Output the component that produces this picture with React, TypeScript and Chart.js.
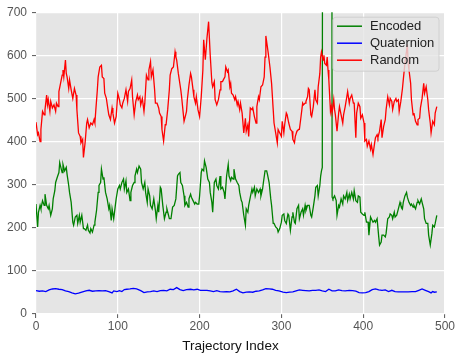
import React, { useEffect, useRef } from "react";
import { Chart, registerables } from "chart.js";

Chart.register(...registerables);

const seriesNames = ["Encoded", "Quaternion", "Random"];
const seriesColors = ["#008000", "#0000ff", "#ff0000"];
const xTicks = [0, 100, 200, 300, 400, 500];
const yTicks = [0, 100, 200, 300, 400, 500, 600, 700];
const xTitle = "Trajectory Index";

const encodedIdx = [
  0,2,3,5,6,8,10,11,13,15,
  16,18,20,21,23,24,26,28,29,30,
  32,33,35,37,38,40,41,43,45,46,
  48,50,51,53,54,56,58,59,61,63,
  64,66,67,69,71,72,74,76,77,79,
  80,82,83,85,87,89,90,92,93,95,
  97,98,100,102,103,105,107,108,110,111,
  113,115,116,118,120,121,123,124,126,128,
  129,131,133,134,136,137,139,140,142,144,
  146,147,149,150,152,153,155,157,159,160,
  162,163,165,167,169,171,173,174,176,177,
  179,181,182,184,186,187,189,190,192,194,
  195,197,199,200,202,203,205,206,208,210,
  212,213,215,216,218,220,221,223,225,226,
  228,230,231,233,235,236,238,239,241,242,
  244,246,248,249,251,252,254,256,257,259,
  260,262,264,265,267,268,270,272,274,275,
  277,278,280,282,283,285,287,288,290,291,
  293,295,296,298,300,301,303,304,306,308,
  309,311,313,314,316,317,319,321,322,324,
  326,327,329,330,332,334,336,337,339,341,
  342,344,345,347,348,349,350,351,356,361,
  362,363,365,367,368,370,371,373,375,376,
  378,380,381,383,384,386,388,389,391,393,
  394,396,397,399,401,402,404,406,407,409,
  410,412,414,415,417,419,420,422,423,425,
  427,428,430,432,433,435,436,438,439,441,
  443,445,446,448,449,451,453,454,456,458,
  459,461,462,464,466,467,469,471,472,474,
  475,477,479,480,482,484,485,487,488,490,
];
const encodedVals = [
  255,202,236,252,244,263,252,278,252,244,
  252,229,244,267,286,305,317,328,351,343,
  328,347,332,340,324,298,282,259,213,206,
  225,229,210,229,213,229,198,198,194,206,
  194,188,198,190,206,213,240,282,298,305,
  336,313,317,282,267,244,252,217,244,221,
  252,267,290,298,290,305,313,290,309,282,
  290,263,282,298,305,320,336,328,343,336,
  305,290,305,282,259,290,274,252,244,267,
  240,221,252,236,294,290,252,221,236,244,
  229,221,221,248,252,267,320,324,328,305,
  298,274,252,259,248,267,278,271,263,255,
  259,255,255,274,328,336,332,355,340,313,
  305,282,259,236,305,313,298,290,320,290,
  294,282,267,320,347,320,309,317,313,336,
  313,305,298,282,263,259,229,206,244,236,
  252,271,290,282,294,274,290,282,290,274,
  290,305,332,332,324,305,267,252,210,210,
  202,198,190,198,213,229,232,217,210,232,
  229,194,225,236,213,210,244,252,221,236,
  244,229,252,240,252,252,229,225,248,274,
  294,298,274,298,320,332,340,2600,3100,2800,
  271,267,274,263,229,252,248,267,255,274,
  267,282,263,278,267,282,267,286,263,259,
  274,271,236,232,229,236,213,213,183,225,
  221,213,217,213,221,179,160,167,183,183,
  179,187,221,225,232,229,221,236,225,229,
  244,259,252,244,259,274,282,271,259,252,
  255,248,252,244,259,263,255,267,259,244,
  221,210,210,183,160,187,206,202,210,229,
];

const quaternionIdx = [
  0,4,8,12,16,20,24,28,32,36,
  40,44,48,52,57,61,65,69,73,77,
  81,85,89,93,95,99,102,105,108,111,
  115,119,123,128,132,136,140,144,148,152,
  156,160,164,168,172,176,180,184,189,193,
  197,201,205,209,213,217,221,225,229,233,
  237,241,245,249,253,257,261,265,269,273,
  277,281,285,289,293,297,302,306,310,314,
  318,322,326,330,334,338,342,346,350,354,
  358,362,366,370,374,378,383,387,391,395,
  399,403,407,411,415,419,423,427,431,435,
  439,443,447,451,455,460,464,468,472,476,
  480,483,485,487,490,
];
const quaternionVals = [
  54.3,52.8,53.5,52,55.8,58,58.9,57.4,56.6,53.5,
  52,49,46.6,48.2,51.2,53.5,55,52.8,53.5,54.3,
  53.5,54.3,52,49,53.5,52,54.3,52,56.6,57.4,
  58.1,59.6,58.1,54.3,49.7,51.2,52,53.5,52,54.3,
  55,53.5,57.4,56.6,61.2,56.6,54.3,56.6,57.4,55.8,
  57.4,55,55,55,53.5,52,54.3,52,51.2,52,
  51.2,53.5,57.4,52,49,50.5,51.2,50.5,52.8,53.5,
  55.8,58.9,58.1,57.4,55,53.5,50.5,49.7,50.5,51.2,
  53.5,55.8,55,54.3,53.5,55,55,55.8,53.5,52,
  57.4,53.5,53.5,55.8,54.3,53.5,55,54.3,52.8,49.7,
  49,49.7,52,56.6,58.1,55.8,55,55.8,52,55,
  52,51.2,51.2,51.2,51.2,52,52,55,58.1,55,
  52,49,52,50.5,51.2,
];

const randomIdx = [
  0,2,3,5,6,8,10,11,13,14,
  15,17,18,20,22,24,25,27,28,30,
  32,33,34,36,37,38,40,41,43,45,
  47,49,50,52,54,55,57,58,60,62,
  63,65,67,69,71,72,73,75,76,78,
  80,81,83,84,86,88,89,91,93,94,
  96,98,100,102,103,105,106,108,110,112,
  113,115,117,118,120,122,124,125,127,128,
  130,132,133,135,137,138,140,141,143,145,
  146,148,150,151,153,154,156,158,159,161,
  163,164,166,168,170,171,172,174,177,178,
  180,181,183,184,185,187,189,190,192,193,
  195,196,198,200,202,204,205,207,209,211,
  213,215,216,218,219,221,223,225,226,228,
  229,231,232,234,235,237,238,239,241,243,
  244,246,247,249,250,252,254,256,257,259,
  260,262,264,265,267,269,270,272,273,275,
  277,279,280,281,284,286,288,290,291,293,
  295,296,298,300,301,303,304,306,307,309,
  311,313,314,316,317,319,321,322,324,326,
  327,329,330,332,333,334,336,337,339,341,
  342,344,345,347,348,349,351,352,353,355,
  356,357,358,360,361,362,364,365,366,368,
  370,371,373,375,376,378,380,381,383,384,
  386,388,389,391,392,394,396,397,399,401,
  402,404,405,407,409,410,412,414,415,417,
  418,420,422,423,425,427,428,430,432,433,
  435,436,438,440,441,443,444,446,448,449,
  451,453,454,455,456,458,459,461,462,464,
  466,467,469,470,472,474,475,477,479,480,
  482,483,485,487,488,490,
];
const randomVals = [
  445,416,420,400,428,470,462,474,508,485,
  497,470,493,478,485,470,489,481,516,535,
  554,566,550,589,558,550,523,543,520,500,
  523,508,474,420,412,397,405,363,397,443,
  451,432,443,439,451,443,470,520,550,573,
  577,550,546,512,500,474,462,451,478,466,
  443,458,512,497,485,478,489,500,520,493,
  516,523,543,504,462,493,508,497,504,485,
  500,470,489,554,543,566,585,550,566,520,
  489,489,478,466,458,428,401,439,439,474,
  520,554,569,573,608,596,589,558,520,504,
  466,447,462,470,497,531,558,550,520,504,
  489,504,474,458,504,566,636,590,640,678,
  600,537,527,539,497,485,497,520,539,539,
  543,550,573,562,566,527,535,512,508,497,
  504,485,493,474,489,466,420,454,424,439,
  412,478,474,478,458,443,481,504,497,527,
  531,550,596,645,604,573,535,474,443,420,
  397,428,420,412,447,420,439,466,462,443,
  428,424,405,397,412,424,428,428,458,489,
  485,489,493,504,523,520,462,458,481,520,
  497,489,527,558,596,608,589,600,581,577,
  596,566,543,470,481,466,497,474,462,424,
  466,481,462,443,462,481,504,516,489,500,
  508,489,489,409,466,489,481,454,462,443,
  401,405,389,401,382,393,370,397,409,416,
  409,424,451,409,435,451,474,504,485,500,
  493,474,493,500,493,497,470,493,523,543,
  581,610,625,581,566,535,497,462,466,447,
  439,451,454,478,500,535,512,527,497,474,
  443,420,447,439,466,481,
];

const toPoints = (xs: number[], ys: number[]) => xs.map((x, i) => ({ x, y: ys[i] }));

const FONT = "'Liberation Sans', Arial, sans-serif";

const bgPlugin = {
  id: "panelBg",
  beforeDraw(chart: any) {
    const { ctx, chartArea } = chart;
    ctx.save();
    ctx.fillStyle = "#E5E5E5";
    ctx.fillRect(chartArea.left, chartArea.top, chartArea.right - chartArea.left, chartArea.bottom - chartArea.top);
    ctx.restore();
  },
};

const titlePlugin = {
  id: "xTitle",
  afterDraw(chart: any) {
    const { ctx, chartArea } = chart;
    ctx.save();
    ctx.font = `13.5px ${FONT}`;
    ctx.fillStyle = "#111";
    ctx.textAlign = "center";
    ctx.textBaseline = "middle";
    ctx.fillText(xTitle, (chartArea.left + chartArea.right) / 2 - 10, chartArea.bottom + 32);
    ctx.restore();
  },
};

const legendPlugin = {
  id: "innerLegend",
  afterDraw(chart: any) {
    const { ctx, chartArea } = chart;
    const w = 106;
    const h = 54;
    const x0 = chartArea.right - 6 - w;
    const y0 = chartArea.top + 5;
    ctx.save();
    ctx.beginPath();
    const r = 3;
    ctx.moveTo(x0 + r, y0);
    ctx.lineTo(x0 + w - r, y0);
    ctx.arcTo(x0 + w, y0, x0 + w, y0 + r, r);
    ctx.lineTo(x0 + w, y0 + h - r);
    ctx.arcTo(x0 + w, y0 + h, x0 + w - r, y0 + h, r);
    ctx.lineTo(x0 + r, y0 + h);
    ctx.arcTo(x0, y0 + h, x0, y0 + h - r, r);
    ctx.lineTo(x0, y0 + r);
    ctx.arcTo(x0, y0, x0 + r, y0, r);
    ctx.closePath();
    ctx.fillStyle = "rgba(229,229,229,0.8)";
    ctx.fill();
    ctx.strokeStyle = "rgba(204,204,204,0.8)";
    ctx.lineWidth = 1;
    ctx.stroke();
    ctx.font = `13px ${FONT}`;
    ctx.textBaseline = "middle";
    ctx.textAlign = "left";
    seriesNames.forEach((name, i) => {
      const cy = y0 + 9 + i * 17;
      ctx.beginPath();
      ctx.strokeStyle = seriesColors[i];
      ctx.lineWidth = 1.5;
      ctx.moveTo(x0 + 4, cy);
      ctx.lineTo(x0 + 29, cy);
      ctx.stroke();
      ctx.fillStyle = "#222";
      ctx.fillText(name, x0 + 37, cy);
    });
    ctx.restore();
  },
};

export default function App() {
  const ref = useRef<HTMLCanvasElement | null>(null);
  useEffect(() => {
    if (!ref.current) return;
    const seriesData = [
      toPoints(encodedIdx, encodedVals),
      toPoints(quaternionIdx, quaternionVals),
      toPoints(randomIdx, randomVals),
    ];
    const chart = new Chart(ref.current, {
      type: "line",
      data: {
        datasets: seriesNames.map((name, i) => ({
          label: name,
          data: seriesData[i],
          borderColor: seriesColors[i],
          backgroundColor: seriesColors[i],
          borderWidth: 1.3,
          pointRadius: 0,
          tension: 0,
          fill: false,
          order: 3 - i,
        })),
      },
      options: {
        responsive: false,
        animation: false,
        layout: { padding: { top: 9, right: 10, left: 0, bottom: 0 } },
        plugins: { legend: { display: false }, tooltip: { enabled: false } },
        scales: {
          x: {
            type: "linear",
            min: 0,
            max: 500,
            afterBuildTicks: (s: any) => { s.ticks = xTicks.map((v) => ({ value: v })); },
            afterFit: (s: any) => { s.height = 47; },
            ticks: { color: "#555", font: { family: FONT, size: 12 }, padding: 1, maxRotation: 0 },
            grid: { color: "#ffffff", lineWidth: 1.2, tickColor: "#555", tickLength: 4, tickWidth: 1 },
            border: { display: false },
            title: { display: false },
          },
          y: {
            type: "linear",
            min: 0,
            max: 700,
            afterBuildTicks: (s: any) => { s.ticks = yTicks.map((v) => ({ value: v })); },
            afterFit: (s: any) => { s.width = 36; },
            ticks: { color: "#555", font: { family: FONT, size: 12 }, padding: 5 },
            grid: { color: "#ffffff", lineWidth: 1.2, tickColor: "#555", tickLength: 4, tickWidth: 1 },
            border: { display: false },
          },
        },
      },
      plugins: [bgPlugin, legendPlugin, titlePlugin],
    });
    return () => chart.destroy();
  }, []);
  return (
    <div style={{ position: "absolute", left: 0, top: 0, width: 456, height: 361, background: "#fff" }}>
      <canvas ref={ref} width={456} height={361} style={{ display: "block" }} />
    </div>
  );
}
